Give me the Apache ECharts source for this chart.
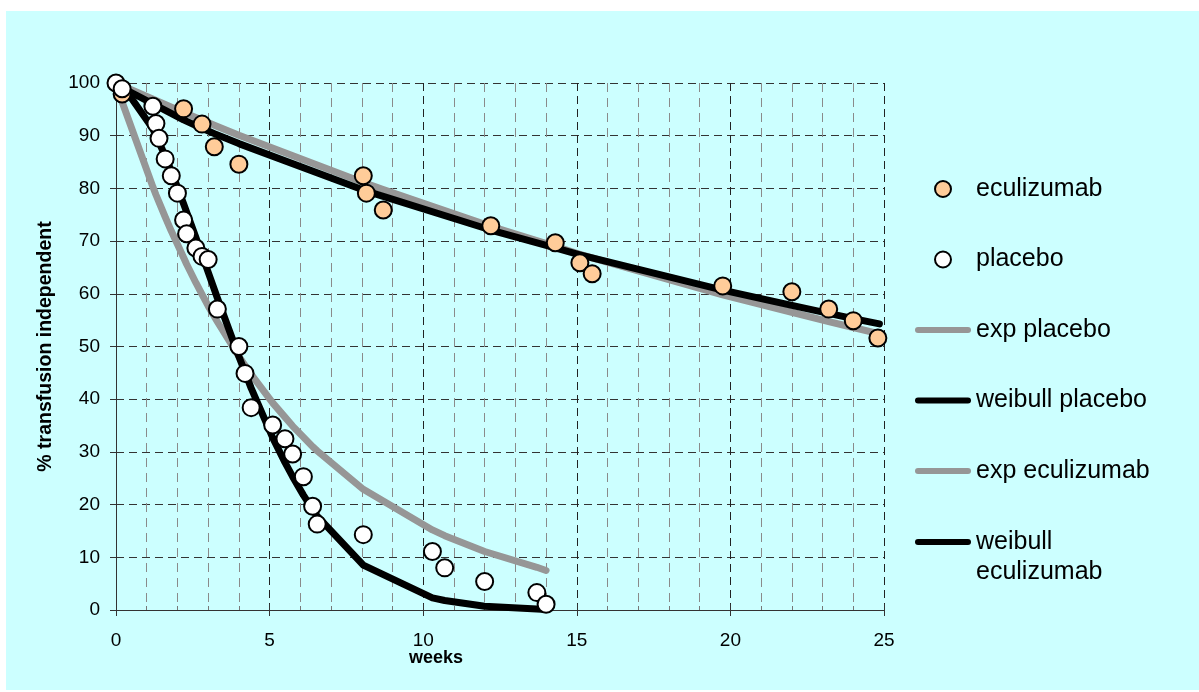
<!DOCTYPE html>
<html>
<head>
<meta charset="utf-8">
<script src="https://cdn.jsdelivr.net/npm/echarts@6/dist/echarts.min.js"></script>
<style type="text/css">
  html,body{margin:0;padding:0;background:#fff;}
  #chart{width:1199px;height:692px;}
</style>
</head>
<body>
<div id="chart"></div>
<script>
// observed points (weeks, % transfusion independent)
var eculWeeks = [0.2, 2.2, 2.8, 3.2, 4.0, 8.05, 8.15, 8.7, 12.2, 14.3, 15.1, 15.5, 19.75, 22.0, 23.2, 24.0, 24.8];
var eculPct   = [97.9, 95.1, 92.2, 87.9, 84.6, 82.4, 79.1, 75.9, 72.9, 69.7, 65.9, 63.8, 61.5, 60.4, 57.1, 54.9, 51.6];

var placWeeks = [0, 0.2, 1.2, 1.3, 1.4, 1.6, 1.8, 2.0, 2.2, 2.3, 2.6, 2.8, 3.0, 3.3, 4.0, 4.2, 4.4, 5.1, 5.5, 5.75, 6.1, 6.4, 6.55, 8.05, 10.3, 10.7, 12.0, 13.7, 14.0];
var placPct   = [100, 98.9, 95.6, 92.3, 89.5, 85.6, 82.4, 79.1, 74.0, 71.4, 68.7, 67.1, 66.5, 57.1, 50.0, 44.9, 38.4, 35.1, 32.5, 29.6, 25.3, 19.7, 16.3, 14.3, 11.1, 8.0, 5.4, 3.3, 1.1];

// fitted curves at the placebo times
var placFitWeeks = [0, 0.2, 1.2, 1.3, 1.4, 1.6, 1.8, 2.0, 2.2, 2.3, 2.6, 2.8, 3.0, 3.3, 4.0, 4.2, 4.4, 5.1, 5.5, 5.75, 6.1, 6.4, 6.55, 8.05, 10.3, 10.7, 12.0, 13.7, 14.0];
var expPlacebo     = [100, 96.4, 80.3, 78.8, 77.4, 74.6, 71.9, 69.4, 66.9, 65.6, 62.1, 59.9, 57.7, 54.7, 48.1, 46.4, 44.7, 39.3, 36.6, 34.9, 32.8, 31.0, 30.2, 22.9, 15.2, 14.1, 11.1, 8.1, 7.5];
var weibullPlacebo = [100, 99.6, 91.3, 90.1, 88.8, 86.1, 83.3, 80.2, 77.1, 75.5, 70.7, 67.4, 64.1, 59.2, 48.1, 45.1, 42.1, 32.7, 28.0, 25.3, 21.8, 19.1, 17.8, 8.5, 2.3, 1.8, 0.7, 0.2, 0.1];

// fitted curves at the eculizumab times
var eculFitWeeks = [0, 0.2, 2.2, 2.8, 3.2, 4.0, 8.05, 8.15, 8.7, 12.2, 14.3, 15.1, 15.5, 19.75, 22.0, 23.2, 24.0, 24.85];
var expEcul      = [100, 99.5, 94.4, 93.0, 92.0, 90.1, 81.1, 80.9, 79.8, 72.8, 69.0, 67.5, 66.8, 59.8, 56.5, 54.7, 53.6, 52.4];
var weibullEcul  = [100, 99.1, 93.0, 91.4, 90.4, 88.5, 79.7, 79.5, 78.5, 72.1, 68.7, 67.4, 66.8, 60.7, 57.8, 56.3, 55.3, 54.3];

var xTicks = [0, 5, 10, 15, 20, 25];
var yTicks = [0, 10, 20, 30, 40, 50, 60, 70, 80, 90, 100];

function pairs(xs, ys){
	var out = [];
	for (var i = 0; i < xs.length; i++) out.push([xs[i], ys[i]]);
	return out;
}

var FONT = 'Liberation Sans, Arial, sans-serif';
var legendText = {fontFamily: FONT, fontSize: 25, color: '#000', lineHeight: 28};
// thick bar with round ends for the line entries of the legend
var barIcon = 'path://M3,0 L53,0 A3,3 0 0 1 53,6 L3,6 A3,3 0 0 1 3,0 Z';

var chart = echarts.init(document.getElementById('chart'));
var option = {
	backgroundColor: '#ffffff',
	animation: false,
	graphic: [
		{type: 'rect', z: -10, silent: true, shape: {x: 6, y: 11, width: 1193, height: 679}, style: {fill: '#ccffff'}},
		{type: 'text', x: 436, y: 658, silent: true,
		 style: {text: 'weeks', align: 'center', verticalAlign: 'middle', font: 'bold 18px Liberation Sans, Arial, sans-serif', fill: '#000'}}
	],
	grid: {left: 116, right: 315, top: 83, bottom: 82},
	legend: [
		{
			orient: 'vertical', left: 915, top: 175, padding: 0,
			itemWidth: 56, itemHeight: 16, itemGap: 42.5,
			textStyle: legendText,
			data: [
				{name: 'eculizumab', icon: 'circle'},
				{name: 'placebo', icon: 'circle'},
				{name: 'exp placebo', icon: barIcon},
				{name: 'weibull placebo', icon: barIcon},
				{name: 'exp eculizumab', icon: barIcon}
			]
		},
		{
			// two-line entry: first line kept level with the icon
			orient: 'vertical', left: 915, top: 497, padding: 0,
			itemWidth: 56, itemHeight: 16,
			textStyle: {fontFamily: FONT, fontSize: 25, color: '#000', lineHeight: 30},
			formatter: function(){ return '\nweibull\neculizumab'; },
			data: [{name: 'weibull eculizumab', icon: barIcon}]
		}
	],
	xAxis: [
		{
			type: 'value', min: 0, max: 25, interval: 5,
			axisLine: {show: true, onZero: false, lineStyle: {color: '#333', width: 1}},
			axisTick: {show: true, length: 6, lineStyle: {color: '#333'}},
			axisLabel: {
				margin: 21, color: '#000', fontFamily: FONT, fontSize: 19,
				formatter: function(v){ return xTicks.indexOf(v) >= 0 ? String(v) : ''; }
			},
			splitLine: {show: true, lineStyle: {color: '#222', type: [8, 5], width: 1}},
			minorTick: {show: false, splitNumber: 5},
			minorSplitLine: {show: true, lineStyle: {color: '#8a8a8a', type: [9, 6], width: 1}}
		},
		{
			// second copy only for the inner tick marks
			type: 'value', min: 0, max: 25, interval: 5, position: 'bottom', gridIndex: 0,
			axisLine: {show: false, onZero: false},
			axisTick: {show: true, inside: true, length: 6, lineStyle: {color: '#333'}},
			axisLabel: {show: false},
			splitLine: {show: false},
			minorTick: {show: true, splitNumber: 5, length: 4, lineStyle: {color: '#777'}}
		}
	],
	yAxis: {
		type: 'value', min: 0, max: 100, interval: 10,
		name: '% transfusion independent', nameLocation: 'middle', nameGap: 60,
		nameTextStyle: {fontFamily: FONT, fontSize: 19.5, fontWeight: 'bold', color: '#000'},
		axisLine: {show: true, lineStyle: {color: '#333', width: 1}},
		axisTick: {show: true, length: 6, lineStyle: {color: '#333'}},
		axisLabel: {
			margin: 16, color: '#000', fontFamily: FONT, fontSize: 19,
			formatter: function(v){ return yTicks.indexOf(v) >= 0 ? String(v) : ''; }
		},
		splitLine: {show: true, lineStyle: {color: '#333', type: [8, 5], width: 1}}
	},
	series: [
		{
			name: 'exp placebo', type: 'line', symbol: 'none', z: 2,
			lineStyle: {color: '#969696', width: 7, cap: 'round', join: 'round'},
			itemStyle: {color: '#969696'},
			data: pairs(placFitWeeks, expPlacebo)
		},
		{
			name: 'weibull placebo', type: 'line', symbol: 'none', z: 3,
			lineStyle: {color: '#000', width: 7, cap: 'round', join: 'round'},
			itemStyle: {color: '#000'},
			data: pairs(placFitWeeks, weibullPlacebo)
		},
		{
			name: 'exp eculizumab', type: 'line', symbol: 'none', z: 2,
			lineStyle: {color: '#969696', width: 7, cap: 'round', join: 'round'},
			itemStyle: {color: '#969696'},
			data: pairs(eculFitWeeks, expEcul)
		},
		{
			name: 'weibull eculizumab', type: 'line', symbol: 'none', z: 3,
			lineStyle: {color: '#000', width: 7, cap: 'round', join: 'round'},
			itemStyle: {color: '#000'},
			data: pairs(eculFitWeeks, weibullEcul)
		},
		{
			name: 'eculizumab', type: 'scatter', symbol: 'circle', symbolSize: 17, z: 5,
			itemStyle: {color: '#ffcc99', borderColor: '#000', borderWidth: 2, opacity: 1},
			data: pairs(eculWeeks, eculPct)
		},
		{
			name: 'placebo', type: 'scatter', symbol: 'circle', symbolSize: 17, z: 6,
			itemStyle: {color: '#ffffff', borderColor: '#000', borderWidth: 2, opacity: 1},
			data: pairs(placWeeks, placPct)
		}
	]
};
chart.setOption(option);
</script>
</body>
</html>
